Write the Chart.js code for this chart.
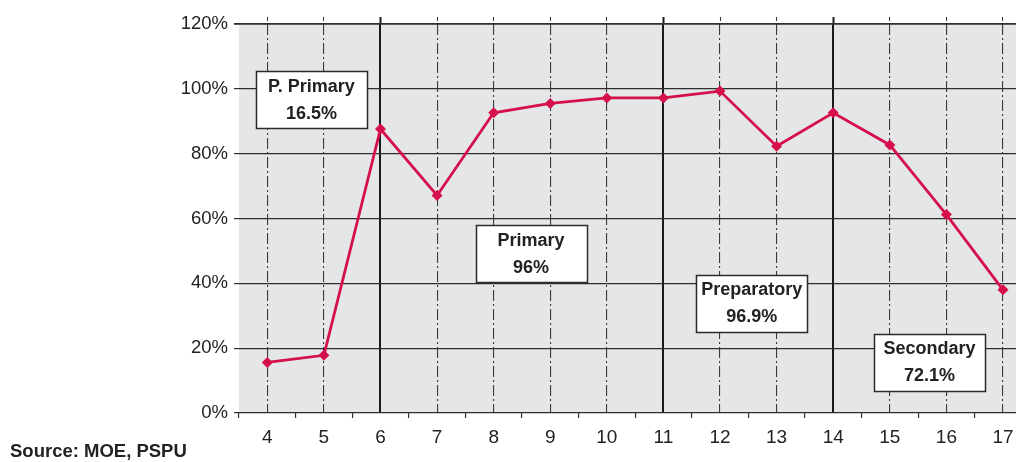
<!DOCTYPE html>
<html>
<head>
<meta charset="utf-8">
<title>Enrolment rate by age</title>
<script src="https://cdn.jsdelivr.net/npm/chart.js@4.4.1/dist/chart.umd.min.js"></script>
<style>
  html, body { margin: 0; padding: 0; background: #ffffff; overflow: hidden; }
  #wrap { width: 1019px; height: 462px; position: relative; }
</style>
</head>
<body>
<div id="wrap"><canvas id="chart" width="1019" height="462"></canvas></div>
<script>
// Age of pupils (x) and enrolment rate in percent (y)
const ages = [4, 5, 6, 7, 8, 9, 10, 11, 12, 13, 14, 15, 16, 17];
const enrolment = [15.6, 17.8, 87.6, 67.1, 92.6, 95.5, 97.2, 97.2, 99.3, 82.3, 92.6, 82.7, 61.2, 38.0];
const yTicks = [0, 20, 40, 60, 80, 100, 120];

// School stages and their overall rates
const stageNames = ['P. Primary', 'Primary', 'Preparatory', 'Secondary'];
const stageRates = ['16.5%', '96%', '96.9%', '72.1%'];
// Ages where one stage ends and the next begins
const stageBreaks = [6, 11, 14];

// Where each stage box sits, in axis units (age, percent)
const boxAnchors = [
  { x: 4.78, y: 96.7 },
  { x: 8.66, y: 49.2 },
  { x: 12.56, y: 33.8 },
  { x: 15.70, y: 15.6 }
];

const FONT = '"Liberation Sans", Arial, Helvetica, sans-serif';
const LINE_RED = '#d5104b';
const DASH_DOT = [11, 3, 2, 3];

// Tick positions on the age axis: labels on whole ages, marks between them
const xTickValues = [];
ages.forEach(a => { xTickValues.push(a - 0.5); xTickValues.push(a); });

const isBreak = ctx => !!(ctx.tick && stageBreaks.includes(ctx.tick.value));
const isWhole = ctx => !!(ctx.tick && Number.isInteger(ctx.tick.value));

const plotBackground = {
  id: 'plotBackground',
  beforeDraw(chart) {
    const { ctx, chartArea: a } = chart;
    ctx.save();
    ctx.fillStyle = '#e5e6e8';
    ctx.fillRect(a.left, a.top, a.right - a.left, a.bottom - a.top);
    ctx.restore();
  }
};

const stageBoxes = {
  id: 'stageBoxes',
  afterDatasetsDraw(chart) {
    const { ctx } = chart;
    const xs = chart.scales.x, ys = chart.scales.y;
    const w = 111, h = 57;
    ctx.save();
    boxAnchors.forEach((p, i) => {
      const cx = xs.getPixelForValue(p.x);
      const cy = ys.getPixelForValue(p.y);
      const left = Math.round(cx - w / 2) + 0.5;
      const top = Math.round(cy - h / 2) + 0.5;
      ctx.fillStyle = '#ffffff';
      ctx.fillRect(left, top, w, h);
      ctx.lineWidth = 1.5;
      ctx.strokeStyle = '#2b2b2b';
      ctx.strokeRect(left, top, w, h);
      ctx.fillStyle = '#222222';
      ctx.font = 'bold 18px ' + FONT;
      ctx.textAlign = 'center';
      ctx.textBaseline = 'alphabetic';
      ctx.fillText(stageNames[i], cx, cy - 8);
      ctx.fillText(stageRates[i], cx, cy + 19);
    });
    ctx.restore();
  }
};

const sourceNote = {
  id: 'sourceNote',
  afterDraw(chart) {
    const { ctx } = chart;
    ctx.save();
    ctx.fillStyle = '#222222';
    ctx.font = 'bold 18.5px ' + FONT;
    ctx.textAlign = 'left';
    ctx.textBaseline = 'alphabetic';
    ctx.fillText('Source: MOE, PSPU', 10, 457);
    ctx.restore();
  }
};

new Chart(document.getElementById('chart'), {
  type: 'line',
  data: {
    datasets: [{
      data: ages.map((a, i) => ({ x: a, y: enrolment[i] })),
      borderColor: LINE_RED,
      backgroundColor: LINE_RED,
      borderWidth: 2.8,
      pointStyle: 'rectRot',
      pointRadius: 5.5,
      pointHoverRadius: 5.5,
      pointBorderWidth: 0,
      tension: 0,
      fill: false
    }]
  },
  options: {
    responsive: false,
    animation: false,
    events: [],
    layout: { autoPadding: false, padding: { top: 17, right: 3, left: 0, bottom: 0 } },
    plugins: {
      legend: { display: false },
      tooltip: { enabled: false }
    },
    scales: {
      x: {
        type: 'linear',
        min: 3.5,
        max: 17.23,
        afterBuildTicks(scale) {
          scale.ticks = xTickValues.map(v => ({ value: v }));
        },
        afterFit(scale) {
          scale.height = 49;
          scale.paddingLeft = 0;
          scale.paddingRight = 0;
        },
        border: {
          display: false,
          dash: ctx => isBreak(ctx) ? [] : DASH_DOT
        },
        grid: {
          color: ctx => {
            if (!isWhole(ctx)) return 'rgba(0,0,0,0)';
            return isBreak(ctx) ? '#1a1a1a' : '#3a3a3a';
          },
          lineWidth: ctx => isBreak(ctx) ? 2 : 1.1,
          drawTicks: true,
          tickLength: 5,
          tickColor: ctx => isWhole(ctx) ? 'rgba(0,0,0,0)' : '#333333',
          tickWidth: 1.2
        },
        ticks: {
          autoSkip: false,
          maxRotation: 0,
          padding: 8,
          color: '#222222',
          font: { family: FONT, size: 19 },
          callback: v => Number.isInteger(v) ? String(v) : ''
        }
      },
      // Short stubs of the age lines rising above the top of the plot
      xTop: {
        type: 'linear',
        position: 'top',
        min: 3.5,
        max: 17.23,
        afterBuildTicks(scale) {
          scale.ticks = ages.map(v => ({ value: v }));
        },
        afterFit(scale) {
          scale.height = 7;
          scale.paddingLeft = 0;
          scale.paddingRight = 0;
        },
        border: { display: false },
        grid: {
          drawOnChartArea: false,
          drawTicks: true,
          tickLength: 7,
          tickColor: ctx => isBreak(ctx) ? '#1a1a1a' : '#3a3a3a',
          tickWidth: ctx => isBreak(ctx) ? 2 : 1.1,
          tickBorderDash: ctx => isBreak(ctx) ? [] : [4, 3]
        },
        ticks: { display: false }
      },
      y: {
        min: 0,
        max: 120,
        afterBuildTicks(scale) {
          scale.ticks = yTicks.map(v => ({ value: v }));
        },
        afterFit(scale) { scale.width = 239; },
        border: { display: false },
        grid: {
          color: '#2e2e2e',
          lineWidth: ctx => (ctx.tick && ctx.tick.value === 120) ? 1.8 : 1.2,
          drawTicks: true,
          tickLength: 5,
          tickColor: '#2e2e2e'
        },
        ticks: {
          padding: 6,
          color: '#222222',
          font: { family: FONT, size: 18.5 },
          callback: v => v + '%'
        }
      }
    }
  },
  plugins: [plotBackground, stageBoxes, sourceNote]
});
</script>
</body>
</html>
